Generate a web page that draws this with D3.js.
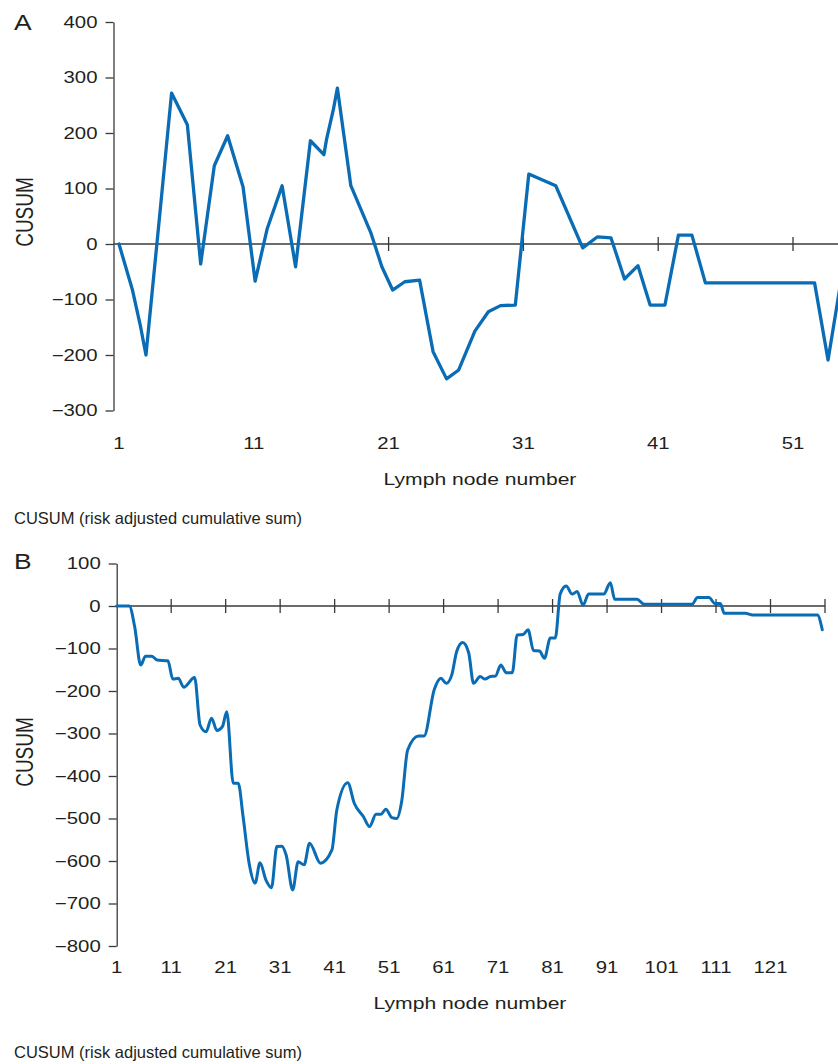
<!DOCTYPE html>
<html>
<head>
<meta charset="utf-8">
<script src="https://cdn.jsdelivr.net/npm/d3@7"></script>
<style>
  body { margin: 0; background: #fff; }
  text { font-family: "Liberation Sans", Arial, Helvetica, sans-serif; fill: #231f20; }
</style>
</head>
<body>
<svg id="chart" width="838" height="1064"></svg>
<script>
"use strict";

// panel A : lymph node number vs CUSUM
var nodesA = [1, 2, 2.6, 3, 4, 4.9, 6.07, 7.06, 8.07, 9.06, 10.2, 11.1, 12, 13.1, 14.1, 15.2, 16.2, 16.4, 16.9, 17.2,
              18.2, 19.7, 20.5, 21.3, 22.2, 23.3, 24.3, 25.3, 26.2, 27.4, 28.4, 29.3, 30.4, 31.4, 33.4, 35.4,
              36.5, 37.5, 38.5, 39.5, 40.4, 41.5, 42.5, 43.5, 44.5, 52.6, 53.6, 54.6];
var cusumA = [0, -83, -149, -200, 47, 272, 215, -36, 141, 195, 103, -67, 28, 105, -41, 186, 161, 189, 242, 281,
              105, 19, -41, -83, -68, -65, -194, -243, -227, -157, -122, -111, -110, 126, 105, -7,
              13, 11, -63, -39, -110, -110, 16, 16, -70, -70, -209, -60];
var yTicksA = [-300, -200, -100, 0, 100, 200, 300, 400];
var xLabelsA = [1, 11, 21, 31, 41, 51];
var zeroTicksA = [21, 31, 41, 51];

// panel B
var nodesB = [1, 3.3, 4.3, 5.4, 6.3, 7.4, 8.4, 10.4, 11.3, 12.3, 13.3, 15.3, 16.3, 17.4, 18.4, 19.4, 20.4, 21.2,
              22.4, 23.3, 24.2, 25.3, 26.4, 27.3, 28.4, 29.4, 30.4, 31.3, 32.1, 33.3, 34.3, 35.4, 36.4, 38.4,
              40.5, 41.4, 43.4, 44.6, 46.3, 47.4, 48.6, 49.5, 50.4, 51.5, 52.4, 53.3, 54.4, 56.4, 57.4, 59.3,
              60.5, 61.5, 62.5, 63.4, 64.5, 65.6, 66.5, 67.7, 68.6, 69.6, 70.5, 71.5, 72.5, 73.6, 74.5, 75.6,
              76.5, 77.5, 78.6, 79.5, 80.6, 81.5, 82.4, 83.5, 84.6, 85.5, 86.6, 87.6, 90.4, 91.6, 92.4, 96.5,
              97.8, 106.6, 107.6, 109.7, 110.8, 111.8, 112.5, 116.4, 117.7, 129.6, 130.5];
var cusumB = [0, 0, -49, -139, -118, -118, -127, -129, -172, -170, -191, -168, -280, -296, -264, -293, -284, -249,
              -417, -417, -496, -605, -652, -604, -645, -663, -566, -565, -586, -668, -602, -609, -558, -605,
              -574, -480, -416, -464, -496, -519, -490, -490, -478, -498, -500, -460, -339, -306, -306, -196,
              -170, -182, -162, -107, -86, -110, -182, -166, -172, -166, -165, -139, -157, -157, -68, -67,
              -56, -105, -106, -123, -75, -75, 28, 47, 28, 34, 2, 28, 28, 55, 16, 16,
              4, 4, 20, 20, 6, 6, -17, -17, -21, -21, -56];
var yTicksB = [-800, -700, -600, -500, -400, -300, -200, -100, 0, 100];
var xLabelsB = [1, 11, 21, 31, 41, 51, 61, 71, 81, 91, 101, 111, 121];
var zeroTicksB = [11, 21, 31, 41, 51, 61, 71, 81, 91, 101, 111, 121, 131];

var SX = 1.25;           // the figure is a bit wider than tall, text too
var lineColor = "#0a6cb4";
var axisColor = "#3a3a3a";
var svg = d3.select("#chart");

function fmt(d) { return d < 0 ? "\u2212" + Math.abs(d) : String(d); }

function drawPanel(p) {
    var x = d3.scaleLinear().domain(p.xDomain).range(p.xRange),
        y = d3.scaleLinear().domain(p.yDomain).range(p.yRange);
    var g = svg.append("g");

    // y axis
    var ya = g.append("g")
        .attr("transform", "translate(" + p.axisX + ",0)")
        .call(d3.axisLeft(y).tickValues(p.yTicks).tickSize(8).tickSizeOuter(0).tickFormat(fmt))
        .attr("font-size", null).attr("font-family", null);
    ya.selectAll("path, line").attr("stroke", axisColor).attr("stroke-width", 1.3);
    ya.selectAll("text")
        .attr("x", -16 / SX)
        .attr("transform", "scale(" + SX + ",1)")
        .attr("fill", "#231f20")
        .style("font-size", "16.3px");

    // zero line + its ticks
    g.append("line")
        .attr("x1", p.axisX).attr("x2", p.zeroEnd)
        .attr("y1", y(0)).attr("y2", y(0))
        .attr("stroke", axisColor).attr("stroke-width", 1.3);
    g.selectAll(".zt").data(p.zeroTicks).enter().append("line")
        .attr("x1", function(d){ return x(d); })
        .attr("x2", function(d){ return x(d); })
        .attr("y1", y(0) - 7).attr("y2", y(0) + 7)
        .attr("stroke", axisColor).attr("stroke-width", 1.3);

    // x labels
    g.selectAll(".xl").data(p.xLabels).enter().append("text")
        .attr("transform", function(d){ return "translate(" + x(d) + "," + p.xLabelY + ") scale(" + SX + ",1)"; })
        .attr("text-anchor", "middle")
        .attr("dy", "0.35em")
        .style("font-size", "16.3px")
        .text(function(d){ return d; });

    // the cusum curve
    var line = d3.line()
        .x(function(d, i){ return x(p.nodes[i]); })
        .y(function(d){ return y(d); })
        .curve(p.curve);
    g.append("path")
        .datum(p.values)
        .attr("fill", "none")
        .attr("stroke", lineColor)
        .attr("stroke-width", p.lineWidth)
        .attr("stroke-linejoin", "round")
        .attr("stroke-linecap", "round")
        .attr("d", line);

    // captions
    g.append("text")
        .attr("transform", "translate(14," + p.letterY + ") scale(1.2,1)")
        .attr("dy", "0.35em")
        .style("font-size", "22px")
        .text(p.letter);
    g.append("text")
        .attr("transform", "translate(25," + p.titleY + ") scale(" + SX + ",1) rotate(-90)")
        .attr("text-anchor", "middle")
        .attr("dy", "0.35em")
        .style("font-size", "19px")
        .text("CUSUM");
    g.append("text")
        .attr("transform", "translate(" + p.xTitleX + "," + p.xTitleY + ") scale(" + SX + ",1)")
        .attr("text-anchor", "middle")
        .attr("dy", "0.35em")
        .style("font-size", "16.9px")
        .text("Lymph node number");
    g.append("text")
        .attr("x", 14).attr("y", p.captionY)
        .attr("dy", "0.35em")
        .style("font-size", "16.5px")
        .text("CUSUM (risk adjusted cumulative sum)");
}

drawPanel({
    nodes: nodesA, values: cusumA, yTicks: yTicksA, xLabels: xLabelsA, zeroTicks: zeroTicksA,
    xDomain: [1, 51], xRange: [119, 793], yDomain: [-300, 400], yRange: [410.5, 22],
    axisX: 113.5, zeroEnd: 838, xLabelY: 443, lineWidth: 3.3, curve: d3.curveLinear,
    letter: "A", letterY: 22, titleY: 212, xTitleX: 480, xTitleY: 479, captionY: 518
});

drawPanel({
    nodes: nodesB, values: cusumB, yTicks: yTicksB, xLabels: xLabelsB, zeroTicks: zeroTicksB,
    xDomain: [1, 131], xRange: [116.7, 825], yDomain: [-800, 100], yRange: [946, 563.5],
    axisX: 116.7, zeroEnd: 825, xLabelY: 967, lineWidth: 3, curve: d3.curveMonotoneX,
    letter: "B", letterY: 561, titleY: 752, xTitleX: 470, xTitleY: 1003, captionY: 1052
});
</script>
</body>
</html>
